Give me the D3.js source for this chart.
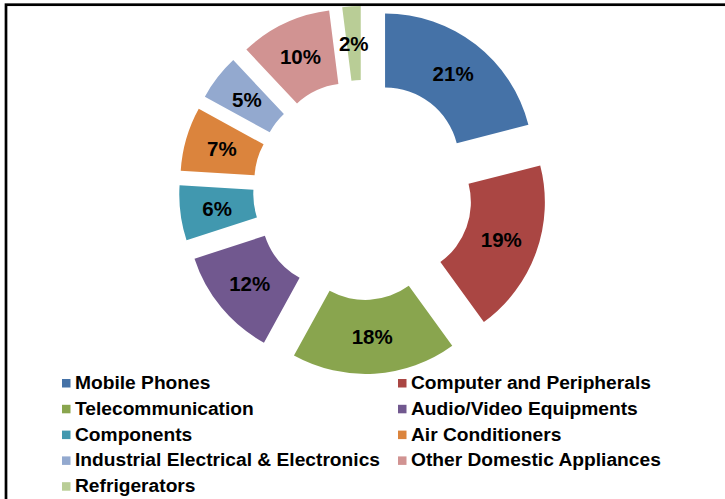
<!DOCTYPE html>
<html>
<head>
<meta charset="utf-8">
<script src="https://cdn.jsdelivr.net/npm/d3@7"></script>
<style>
  html, body { margin: 0; padding: 0; background: #fff; }
  svg { display: block; font-family: "Liberation Sans", Arial, sans-serif; }
</style>
</head>
<body>
<div id="chart"></div>
<script>
// segments, clockwise from 12 o'clock
var categories = ["Mobile Phones", "Computer and Peripherals", "Telecommunication",
    "Audio/Video Equipments", "Components", "Air Conditioners",
    "Industrial Electrical & Electronics", "Other Domestic Appliances", "Refrigerators"];
var shares = [21, 19, 18, 12, 6, 7, 5, 10, 2];
var colors = ["#4572A7", "#AA4643", "#89A54E", "#71588F", "#4198AF",
    "#DB843D", "#93A9CF", "#D19392", "#B9CD96"];

var width = 725, height = 499;
var cx = 363, cy = 190,
    outerR = 148, innerR = 74,
    explode = 36;

var svg = d3.select("#chart").append("svg")
    .attr("width", width)
    .attr("height", height);

// chart frame, only top and left edges are inside the picture
svg.append("rect")
    .attr("x", 6).attr("y", 4.7)
    .attr("width", 900).attr("height", 700)
    .attr("fill", "none")
    .attr("stroke", "#000")
    .attr("stroke-width", 2.7);

var pie = d3.pie().sort(null).value(function(d){ return d; });
var arcs = pie(shares);

var arc = d3.arc().innerRadius(innerR).outerRadius(outerR);

var g = svg.append("g").attr("transform", "translate(" + cx + "," + cy + ")");

// push each slice out along its mid angle
var offset = function(d){
    var a = (d.startAngle + d.endAngle) / 2;
    return [Math.sin(a) * explode, -Math.cos(a) * explode];
};

var slices = g.selectAll("g.slice").data(arcs).enter().append("g")
    .attr("class", "slice")
    .attr("transform", function(d){
        var o = offset(d);
        return "translate(" + o[0] + "," + o[1] + ")";
    });

slices.append("path")
    .attr("d", arc)
    .attr("fill", function(d, i){ return colors[i]; });

slices.append("text")
    .attr("transform", function(d){ return "translate(" + arc.centroid(d) + ")"; })
    .attr("text-anchor", "middle")
    .attr("dy", "0.36em")
    .style("font-size", "20.5px")
    .style("font-weight", "bold")
    .style("fill", "#000")
    .text(function(d){ return d.value + "%"; });

// legend, two columns filled row by row
var legendX = d3.scaleOrdinal().domain([0, 1]).range([62, 398]);
var legendY = d3.scaleLinear().domain([0, 1]).range([389, 414.8]);

var items = svg.append("g").selectAll("g.item").data(categories).enter().append("g")
    .attr("class", "item")
    .attr("transform", function(d, i){
        return "translate(" + legendX(i % 2) + "," + legendY(Math.floor(i / 2)) + ")";
    });

items.append("rect")
    .attr("x", 0).attr("y", -10)
    .attr("width", 8.5).attr("height", 8.5)
    .attr("fill", function(d, i){ return colors[i]; });

items.append("text")
    .attr("x", 13)
    .attr("y", 0)
    .style("font-size", "19.2px")
    .style("font-weight", "bold")
    .style("fill", "#000")
    .text(function(d){ return d; });
</script>
</body>
</html>
